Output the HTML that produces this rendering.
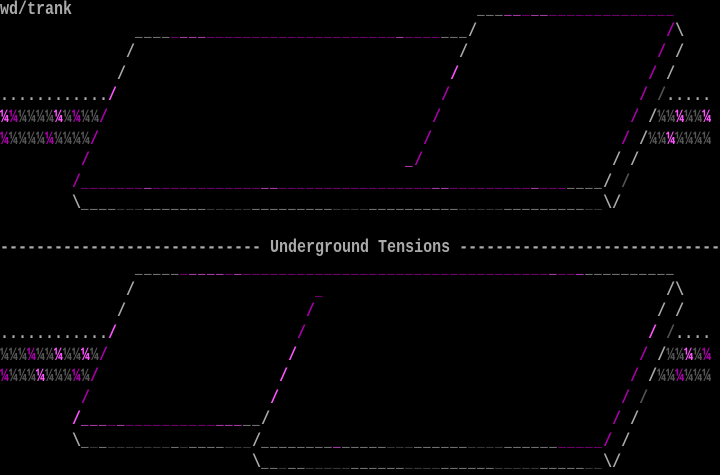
<!DOCTYPE html>
<html><head><meta charset="utf-8"><style>
html,body{margin:0;padding:0;background:#000;width:720px;height:475px;overflow:hidden}
pre{margin:0;font-family:"Liberation Mono","DejaVu Sans Mono",monospace;font-size:18px;font-weight:bold;line-height:21.59px;color:#aaa;transform:scaleX(0.83333);transform-origin:0 0;white-space:pre;width:864px}
.a{color:#aaa}.d{color:#555}.m{color:#aa00aa}.p{color:#ff55ff}
.u{font-size:15px;letter-spacing:1.8px}
</style></head><body><pre>wd/trank                                             <span class="u"><span class="a">___</span><span class="p">__</span><span class="m">_</span><span class="p">__</span><span class="m">______________</span></span>
               <span class="u"><span class="a">____</span><span class="m">_</span><span class="p">___</span><span class="m">_____________________</span><span class="p">_</span><span class="m">____</span><span class="a">___</span></span>/                     <span class="m">/</span>\
              /                                    /                     <span class="m">/</span> /
             /                                    <span class="p">/</span>                     <span class="m">/</span> /
<span class="a">............</span><span class="p">/</span>                                    <span class="m">/</span>                     <span class="m">/</span> <span class="d">/</span><span class="a">.....</span>
<span class="p">¼</span><span class="m">¼</span><span class="d">¼¼¼¼</span><span class="p">¼</span><span class="d">¼</span><span class="m">¼</span><span class="d">¼¼</span><span class="m">/</span>                                    <span class="m">/</span>                     <span class="m">/</span> /<span class="d">¼¼</span><span class="p">¼</span><span class="d">¼¼</span><span class="p">¼</span>
<span class="m">¼</span><span class="d">¼¼¼¼</span><span class="m">¼</span><span class="d">¼¼¼¼</span><span class="m">/</span>                                    <span class="m">/</span>                     <span class="m">/</span> /<span class="d">¼¼</span><span class="p">¼</span><span class="d">¼¼¼¼</span>
         <span class="m">/</span>                                   <span class="u p">_</span><span class="m">/</span>                     / /
        <span class="m">/</span><span class="u"><span class="m">_______</span><span class="p">_</span><span class="m">____________</span><span class="p">__</span><span class="m">_________________</span><span class="p">__</span><span class="m">_________</span><span class="p">_</span><span class="m">___</span><span class="a">____</span></span>/ <span class="d">/</span>
        \<span class="u"><span class="a">____</span><span class="d">___</span><span class="a">_______</span><span class="d">_____</span><span class="a">_________</span><span class="d">____</span><span class="a">__________</span><span class="d">_____</span><span class="a">_________</span><span class="d">__</span></span>\/

----------------------------- Underground Tensions -----------------------------
               <span class="u"><span class="a">_____</span><span class="m">_</span><span class="p">____</span><span class="m">_</span><span class="p">_</span><span class="m">__________________________________</span><span class="p">_</span><span class="m">__</span><span class="p">_</span><span class="a">__________</span></span>
              /                    <span class="u m">_</span>                                      /\
             /                    <span class="m">/</span>                                      / /
<span class="a">............</span><span class="p">/</span>                    <span class="m">/</span>                                      <span class="p">/</span> <span class="d">/</span><span class="a">....</span>
<span class="d">¼¼¼</span><span class="m">¼</span><span class="d">¼¼</span><span class="p">¼</span><span class="d">¼¼</span><span class="p">¼</span><span class="d">¼</span><span class="m">/</span>                    <span class="p">/</span>                                      <span class="m">/</span> /<span class="d">¼¼</span><span class="p">¼</span><span class="d">¼</span><span class="m">¼</span>
<span class="m">¼</span><span class="d">¼¼¼</span><span class="p">¼</span><span class="d">¼¼¼</span><span class="m">¼</span><span class="d">¼</span><span class="m">/</span>                    <span class="p">/</span>                                      <span class="m">/</span> /<span class="d">¼¼</span><span class="m">¼</span><span class="d">¼¼¼</span>
         <span class="m">/</span>                    <span class="p">/</span>                                      <span class="m">/</span> <span class="d">/</span>
        <span class="p">/</span><span class="u"><span class="p">___</span><span class="m">_</span><span class="p">_</span><span class="m">__________</span><span class="p">___</span><span class="a">__</span></span>/                                      <span class="m">/</span> /
        \<span class="u"><span class="a">_</span><span class="d">_</span><span class="a">_</span><span class="d">_______</span><span class="a">_</span><span class="d">_</span><span class="a">____</span><span class="d">___</span></span>/<span class="u"><span class="a">________</span><span class="p">_</span><span class="a">_____</span><span class="d">___</span><span class="a">______</span><span class="d">____</span><span class="a">______</span><span class="m">_____</span></span><span class="m">/</span> /
                            \<span class="u"><span class="a">__</span><span class="d">_</span><span class="a">__</span><span class="d">_____</span><span class="a">______</span><span class="d">____</span><span class="a">______</span><span class="d">_____</span><span class="a">_____</span><span class="d">__</span></span>\/
</pre></body></html>
